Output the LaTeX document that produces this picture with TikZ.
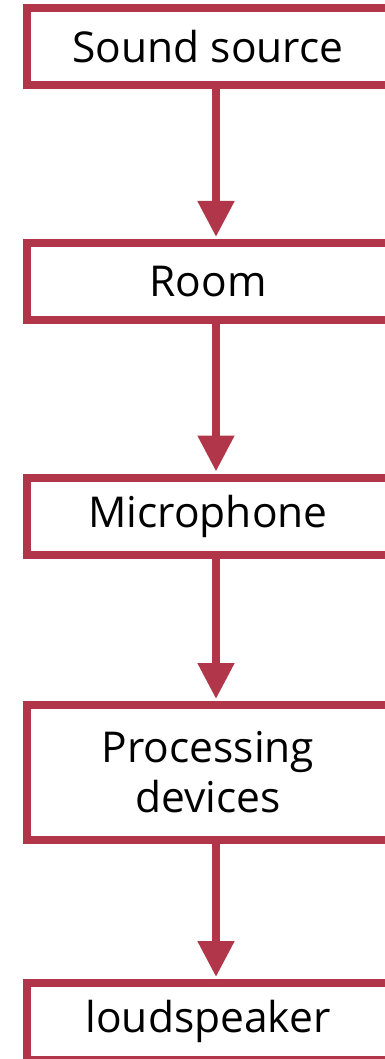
\documentclass[tikz,border=0pt]{standalone}
\usepackage{fontspec}
\setmainfont{Open Sans}
\usepackage{xcolor}
\usepackage{tikz}
\usetikzlibrary{positioning,arrows.meta}
\definecolor{chainred}{RGB}{177,54,74}

\begin{document}
\begin{tikzpicture}[
    x=1pt, y=1pt,
    every node/.style={rectangle, draw=chainred, line width=8pt, minimum width=362pt,
        minimum height=77pt, inner sep=0pt, align=center, font=\fontsize{42.5}{50}\selectfont},
    tall/.style={minimum height=135pt},
    flow/.style={draw=chainred, line width=8pt, -{Triangle[width=35pt,length=36pt]}, shorten >=2pt}
]
\useasboundingbox (0,0) rectangle (385,-1059);

% Kette der Stationen
\node (source) at (208,-46.5) {Sound source};
\node (room) at (208,-281.5) {Room};
\node (mic) at (208,-516) {Microphone};
\node[tall] (proc) at (208,-772.5) {Processing\\devices};
\node (speaker) at (208,-1021.5) {loudspeaker};

% Pfeile
\draw[flow] ([xshift=8pt]source.south) -- ([xshift=8pt]room.north);
\draw[flow] ([xshift=8pt]room.south) -- ([xshift=8pt]mic.north);
\draw[flow] ([xshift=8pt]mic.south) -- ([xshift=8pt]proc.north);
\draw[flow] ([xshift=8pt]proc.south) -- ([xshift=8pt]speaker.north);

\end{tikzpicture}
\end{document}
